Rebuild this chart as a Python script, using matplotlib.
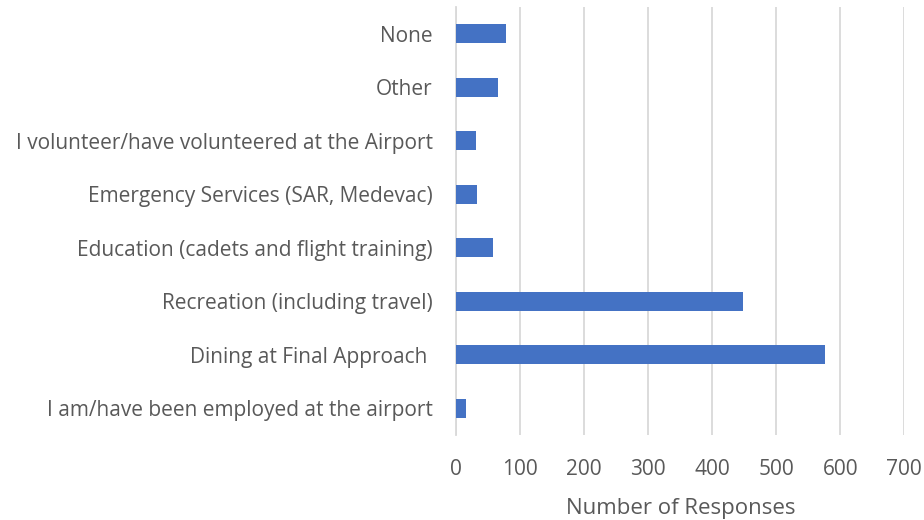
import matplotlib.pyplot as plt

#--- data (bottom to top)
categories = [
    'I am/have been employed at the airport',
    'Dining at Final Approach ',
    'Recreation (including travel)',
    'Education (cadets and flight training)',
    'Emergency Services (SAR, Medevac)',
    'I volunteer/have volunteered at the Airport',
    'Other',
    'None',
]
responses = [15, 576, 448, 58, 33, 31, 65, 77]
xticks = [0, 100, 200, 300, 400, 500, 600, 700]

plt.rcParams['font.family'] = ['Open Sans', 'DejaVu Sans']
text_col = '#595959'

#--- plot
fig = plt.figure(figsize=(9.24, 5.2), dpi=100)
ax = fig.add_axes([0.4938, 0.1635, 0.4849, 0.823])

ax.barh(categories, responses, height=0.35, color='#4472C4', zorder=3)

ax.set_xlim(0, 700)
ax.set_ylim(-0.5, len(categories) - 0.5)
ax.set_xticks(xticks)
ax.grid(axis='x', color='#d9d9d9', linewidth=1.3, zorder=0)
ax.set_axisbelow(True)

for side in ['top', 'right', 'bottom']:
    ax.spines[side].set_visible(False)
ax.spines['left'].set_color('#d9d9d9')
ax.spines['left'].set_linewidth(1.3)

ax.tick_params(axis='both', length=0, labelsize=15, colors=text_col)
ax.tick_params(axis='x', pad=17)
ax.tick_params(axis='y', pad=17)

ax.set_xlabel('Number of Responses', fontsize=16, color=text_col, labelpad=13)

plt.savefig('out.png', dpi=100)
